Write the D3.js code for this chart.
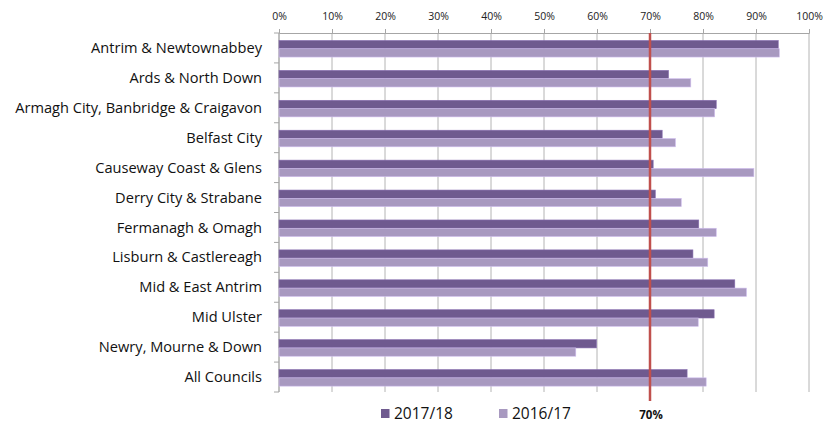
<!DOCTYPE html>
<html lang="en">
<head>
    <meta charset="UTF-8">
    <title>Councils vs 70% target</title>
    <script src="https://d3js.org/d3.v7.min.js"></script>
    <style>
        body { margin: 0; background: #fff; font-family: "Open Sans", "Noto Sans", sans-serif; }
        svg { display: block; }
    </style>
</head>
<body>
    <div id="chart"></div>
    <script>
        // data
        const councils = [
            "Antrim & Newtownabbey", "Ards & North Down", "Armagh City, Banbridge & Craigavon",
            "Belfast City", "Causeway Coast & Glens", "Derry City & Strabane",
            "Fermanagh & Omagh", "Lisburn & Castlereagh", "Mid & East Antrim",
            "Mid Ulster", "Newry, Mourne & Down", "All Councils"
        ];
        const years = ["2017/18", "2016/17"];
        const values1718 = [94.2, 73.5, 82.5, 72.3, 70.6, 71.0, 79.2, 78.1, 86.0, 82.1, 59.9, 77.0];
        const values1617 = [94.4, 77.7, 82.2, 74.8, 89.6, 75.9, 82.5, 80.9, 88.2, 79.1, 56.0, 80.6];
        const xTicks = [0, 10, 20, 30, 40, 50, 60, 70, 80, 90, 100];
        const target = 70;

        const W = 823, H = 422;
        const margin = { top: 33, right: 14, bottom: 30, left: 279 };
        const colors = { "2017/18": "#6f5a8f", "2016/17": "#a899c0" };

        const svg = d3.select("#chart").append("svg")
            .attr("width", W).attr("height", H);

        const x = d3.scaleLinear().domain([0, 100]).range([margin.left, 809]);
        const y = d3.scaleBand().domain(councils).range([margin.top, 392]);
        const inner = d3.scaleBand().domain(years).range([0, 16.6]);
        const off = (y.bandwidth() - 16.6) / 2 + 0.8;

        // gridlines
        svg.append("g").selectAll("line").data(xTicks).join("line")
            .attr("x1", d => x(d)).attr("x2", d => x(d))
            .attr("y1", margin.top).attr("y2", 392)
            .attr("stroke", "#b4b4b4").attr("stroke-width", 1);

        // top axis
        const xAxis = svg.append("g")
            .attr("transform", `translate(0,${margin.top})`)
            .call(d3.axisTop(x).tickValues(xTicks).tickFormat(d => d + "%").tickSize(4).tickPadding(9));
        xAxis.select(".domain").attr("stroke", "#a6a6a6");
        xAxis.selectAll(".tick line").attr("stroke", "#a6a6a6");
        xAxis.selectAll("text").attr("font-size", 10.5).attr("fill", "#222")
            .attr("font-family", "'Open Sans', sans-serif");

        // left axis with ticks between categories
        const yAxis = svg.append("g").attr("transform", `translate(${margin.left},0)`);
        yAxis.append("line").attr("x1", 0).attr("x2", 0)
            .attr("y1", margin.top).attr("y2", 392).attr("stroke", "#a6a6a6");
        yAxis.selectAll(".cat-tick").data(councils.concat(["end"])).join("line")
            .attr("class", "cat-tick")
            .attr("x1", -5).attr("x2", 0)
            .attr("y1", (d, i) => margin.top + i * y.step())
            .attr("y2", (d, i) => margin.top + i * y.step())
            .attr("stroke", "#a6a6a6");
        yAxis.selectAll(".cat-label").data(councils).join("text")
            .attr("class", "cat-label")
            .attr("x", -17)
            .attr("y", d => y(d) + y.bandwidth() / 2)
            .attr("dy", "0.35em")
            .attr("text-anchor", "end")
            .attr("font-size", 14.6)
            .attr("fill", "#111")
            .text(d => d);

        // bars
        const series = [
            { key: "2017/18", vals: values1718 },
            { key: "2016/17", vals: values1617 }
        ];
        series.forEach(s => {
            svg.append("g").selectAll("rect")
                .data(councils.map((c, i) => ({ c, v: s.vals[i] })))
                .join("rect")
                .attr("x", x(0))
                .attr("y", d => y(d.c) + off + inner(s.key))
                .attr("width", d => x(d.v) - x(0))
                .attr("height", inner.bandwidth())
                .attr("fill", colors[s.key])
                .attr("stroke", d3.color(colors[s.key]).brighter(0.6))
                .attr("stroke-width", 0.6);
        });

        // 70% target line
        svg.append("line")
            .attr("x1", x(target)).attr("x2", x(target))
            .attr("y1", margin.top).attr("y2", 401)
            .attr("stroke", "#c0504d").attr("stroke-width", 2.5);
        svg.append("text")
            .attr("x", x(target) + 1).attr("y", 419)
            .attr("text-anchor", "middle")
            .attr("font-size", 11.5).attr("font-weight", "bold")
            .attr("fill", "#111")
            .text(target + "%");

        // legend
        const legendX = [381, 499];
        const legend = svg.append("g").selectAll("g").data(years).join("g")
            .attr("transform", (d, i) => `translate(${legendX[i]},409)`);
        legend.append("rect").attr("width", 8.5).attr("height", 9).attr("fill", d => colors[d]);
        legend.append("text").attr("x", 13).attr("y", 9.5)
            .attr("font-size", 15.5).attr("fill", "#111").text(d => d);
    </script>
</body>
</html>
